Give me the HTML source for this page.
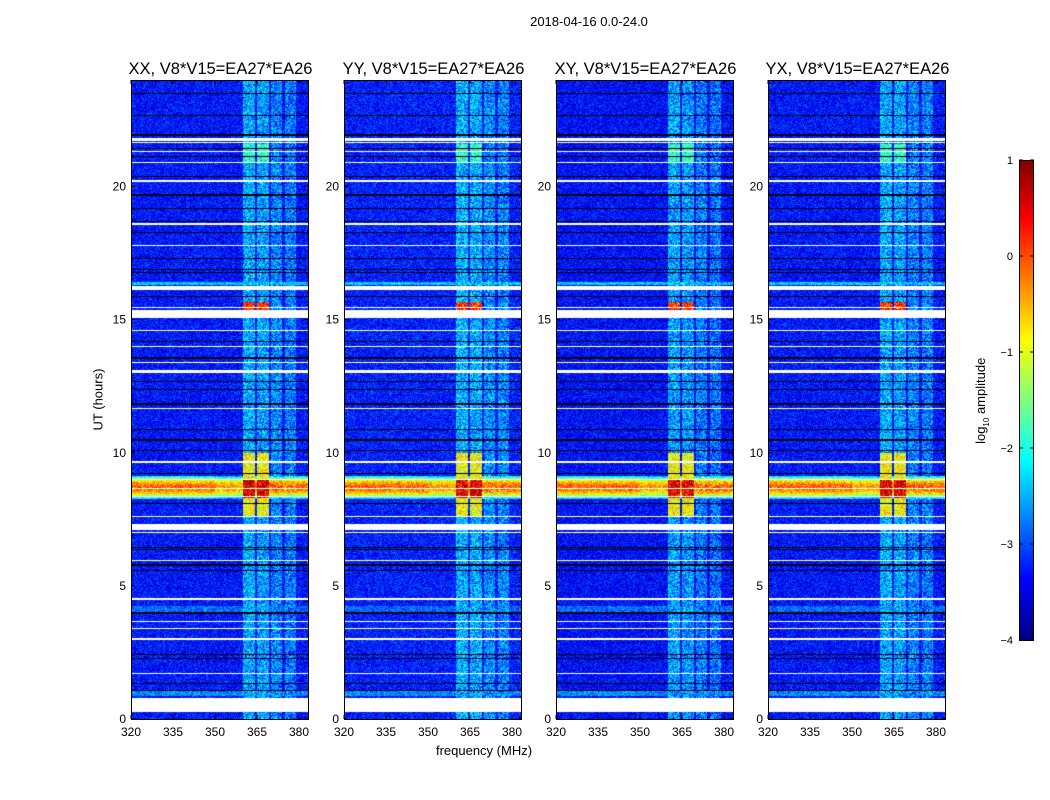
<!DOCTYPE html>
<html><head><meta charset="utf-8">
<style>
body{margin:0;background:#fff;}
#root{position:relative;width:1050px;height:800px;background:#fff;font-family:"Liberation Sans",sans-serif;color:#000;overflow:hidden}
.t{position:absolute;white-space:nowrap}
canvas{position:absolute}
</style></head>
<body>
<div id="root">
<div class="t" style="left:489px;top:14px;width:200px;text-align:center;font-size:13px">2018-04-16 0.0-24.0</div>
<div class="t" style="left:384px;top:743px;width:200px;text-align:center;font-size:13px">frequency (MHz)</div>
<div class="t" style="left:48px;top:392px;width:100px;text-align:center;font-size:13px;transform:rotate(-90deg)">UT (hours)</div>
<div class="t" style="left:922px;top:392px;width:120px;text-align:center;font-size:13px;transform:rotate(-90deg)">log<sub style="font-size:8px">10</sub> amplitude</div>
<svg id="svg" width="1050" height="800" style="position:absolute;left:0;top:0"></svg>
</div>
<script>
// ---- data ----
const panelTitles = ["XX, V8*V15=EA27*EA26","YY, V8*V15=EA27*EA26","XY, V8*V15=EA27*EA26","YX, V8*V15=EA27*EA26"];
const xTicks = [320,335,350,365,380];
const yTicks = [0,5,10,15,20];
const cbTicks = [1,0,-1,-2,-3,-4];
const backgroundLevel = -3.3;
// frequency bands: [fLo, fHi, level]
const bandLo = [360, 365, 370, 375];
const bandHi = [364.3, 369.3, 374, 379];
const bandLevel = [-2.55, -2.6, -2.75, -2.8];
// flagged (white) intervals in hours
const whiteStart = [21.7,21.63,21.28,20.88,20.17,18.57,17.77,16.1,15.43,15.05,14.57,13.97,13.37,13.0,11.63,9.63,8.98,8.63,8.33,7.58,7.1,6.98,5.93,4.48,3.63,3.38,2.98,1.68,0.25];
const whiteEnd   = [21.82,21.68,21.33,20.93,20.24,18.62,17.82,16.25,15.48,15.35,14.62,14.02,13.42,13.12,11.68,9.68,9.03,8.68,8.38,7.63,7.32,7.03,5.98,4.53,3.68,3.43,3.03,1.73,0.8];
// black dropout lines (hours)
const blackLines = [23.5,22.7,21.95,21.45,21.15,20.4,19.7,19.2,18.7,18.3,17.3,16.9,16.8,15.9,14.2,13.6,13.55,12.7,12.4,11.85,10.9,10.5,10.1,9.25,8.1,6.45,6.38,5.8,5.6,4.0,2.45,2.3,1.35,1.1];
// broad-band rows
const rowStart = [16.3, 4.0, 0.85];
const rowEnd   = [16.42, 4.25, 1.1];
const rowLevel = [-2.4, -2.85, -2.7];
// broadband interference event
const rfiCentre = 8.7, rfiWidth = 0.42, rfiPeak = -0.1;
// blocks in bands 1,2
const blockStart = [7.6, 8.3, 15.35, 20.9];
const blockEnd   = [10.0, 9.0, 15.65, 21.6];
const blockLevel = [-0.9, 0.5, 0.15, -1.9];
const panelGain = [0, 0.05, -0.05, 0];

// ---- axes geometry ----
const panelLeft=[131,344,556,768], pW=177, pTop=80, pBot=719;
const fMin=320, fMax=320+177/2.8, tMin=0, tMax=24;
const xS=(f,i)=>panelLeft[i]+(f-fMin)/(fMax-fMin)*pW;
const yS=t=>pBot-(t-tMin)/(tMax-tMin)*(pBot-pTop);
const cbX=1019,cbW=15,cbTop=160,cbBot=640,cMin=-4,cMax=1;
const cbY=v=>cbBot-(v-cMin)/(cMax-cMin)*(cbBot-cbTop);

function jet(v){
  let x=(v-cMin)/(cMax-cMin); x=Math.max(0,Math.min(1,x));
  const f=(a)=>Math.max(0,Math.min(1,a));
  const r=f(1.5-Math.abs(4*x-3)), g=f(1.5-Math.abs(4*x-2)), b=f(1.5-Math.abs(4*x-1));
  return [r*255|0,g*255|0,b*255|0];
}
function hash(a,b){let h=(a*374761393+b*668265263)|0;h=(h^(h>>>13))*1274126177|0;return ((h^(h>>>16))>>>0)/4294967296;}

function value(f,t,i){
  let v=backgroundLevel+panelGain[i];
  let inBand=false;
  for(let k=0;k<bandLo.length;k++) if(f>=bandLo[k]&&f<bandHi[k]){ v=Math.max(v,bandLevel[k]+panelGain[i]); inBand=true; }
  for(let k=0;k<rowStart.length;k++) if(t>=rowStart[k]&&t<rowEnd[k]) v=Math.max(v,rowLevel[k]);
  const d=Math.abs(t-rfiCentre)/rfiWidth;
  if(d<1){ v=Math.max(v, rfiPeak-(d*d)*2.2 - (f>350&&f<360?0.25:0)); }
  const inB=(f>=bandLo[0]&&f<bandHi[0])||(f>=bandLo[1]&&f<bandHi[1]);
  if(inB) for(let k=0;k<blockStart.length;k++) if(t>=blockStart[k]&&t<blockEnd[k]) v=Math.max(v,blockLevel[k]);
  return [v,inBand];
}

const root=document.getElementById('root');
const svg=document.getElementById('svg');
const NS='http://www.w3.org/2000/svg';
function el(tag,attrs){const e=document.createElementNS(NS,tag);for(const k in attrs)e.setAttribute(k,attrs[k]);svg.appendChild(e);return e;}
function txt(x,y,s,anchor,size,name){const e=el('text',{x:x,y:y,'text-anchor':anchor,'font-size':size,'font-family':'Liberation Sans, sans-serif'});e.textContent=s;


return e;}

for(let i=0;i<4;i++){
  const c=document.createElement('canvas');
  c.width=pW;c.height=pBot-pTop;c.style.left=panelLeft[i]+'px';c.style.top=pTop+'px';
  
  
  root.insertBefore(c,svg);
  const ctx=c.getContext('2d');const img=ctx.createImageData(c.width,c.height);
  for(let py=0;py<c.height;py++){
    const t=tMax-(py+0.5)/c.height*(tMax-tMin);
    let white=false;for(let k=0;k<whiteStart.length;k++) if(t>=whiteStart[k]&&t<whiteEnd[k]) white=true;
    let black=false;for(const b of blackLines) if(Math.abs(yS(b)-(py+pTop))<0.6) black=true;
    for(let px=0;px<c.width;px++){
      const f=fMin+(px+0.5)/pW*(fMax-fMin);
      let col;
      if(white) col=[255,255,255];
      else if(black) col=[0,0,20];
      else {const r=value(f,t,i);const amp=r[1]?1.3:0.9;const v=r[0]+(hash(px+i*991,py)-0.5)*amp; col=jet(v);}
      const o=(py*c.width+px)*4;img.data[o]=col[0];img.data[o+1]=col[1];img.data[o+2]=col[2];img.data[o+3]=255;
    }
  }
  ctx.putImageData(img,0,0);
  const frame=el('rect',{x:panelLeft[i]+0.5,y:pTop+0.5,width:pW,height:pBot-pTop,fill:'none',stroke:'#000','stroke-width':1});
  
  
  txt(panelLeft[i]+pW/2+1,74,panelTitles[i],'middle',16.5,'panel-title-'+i);
  xTicks.forEach(v=>{const x=xS(v,i);
    el('line',{x1:x,x2:x,y1:pBot,y2:pBot-4,stroke:'#000'});el('line',{x1:x,x2:x,y1:pTop,y2:pTop+4,stroke:'#000'});
    txt(x,736,String(v),'middle',12,'x-tick-label');});
  yTicks.forEach(v=>{const y=yS(v);
    el('line',{x1:panelLeft[i],x2:panelLeft[i]+4,y1:y,y2:y,stroke:'#000'});el('line',{x1:panelLeft[i]+pW,x2:panelLeft[i]+pW-4,y1:y,y2:y,stroke:'#000'});
    txt(panelLeft[i]-5,y+4,String(v),'end',12,'y-tick-label');});
}
// colorbar
const cb=document.createElement('canvas');cb.width=cbW;cb.height=cbBot-cbTop;cb.style.left=cbX+'px';cb.style.top=cbTop+'px';


root.insertBefore(cb,svg);
{const ctx=cb.getContext('2d');for(let py=0;py<cb.height;py++){const v=cMax-(py+0.5)/cb.height*(cMax-cMin);const c=jet(v);ctx.fillStyle=`rgb(${c[0]},${c[1]},${c[2]})`;ctx.fillRect(0,py,cbW,1);}}
el('rect',{x:cbX+0.5,y:cbTop+0.5,width:cbW-1,height:cbBot-cbTop,fill:'none',stroke:'#000'});
cbTicks.forEach(v=>{const y=cbY(v);el('line',{x1:cbX,x2:cbX+4,y1:y,y2:y,stroke:'#000'});el('line',{x1:cbX+cbW,x2:cbX+cbW-4,y1:y,y2:y,stroke:'#000'});
  txt(cbX-6,y+4,(v<0?'\u2212'+(-v):String(v)),'end',11,'colorbar-tick-label');});
</script>
</body></html>
